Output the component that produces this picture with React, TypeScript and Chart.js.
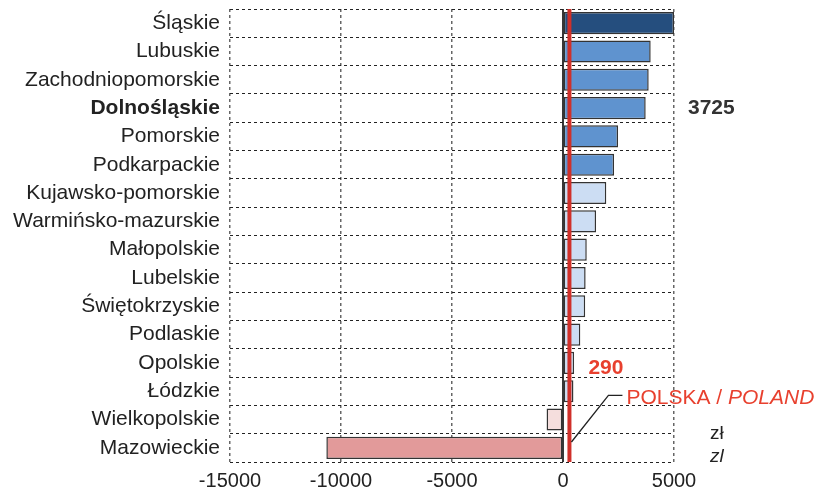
import React, { useEffect, useRef } from "react";
import { Chart, registerables } from "chart.js";

Chart.register(...registerables);

const categories = [
  "Śląskie",
  "Lubuskie",
  "Zachodniopomorskie",
  "Dolnośląskie",
  "Pomorskie",
  "Podkarpackie",
  "Kujawsko-pomorskie",
  "Warmińsko-mazurskie",
  "Małopolskie",
  "Lubelskie",
  "Świętokrzyskie",
  "Podlaskie",
  "Opolskie",
  "Łódzkie",
  "Wielkopolskie",
  "Mazowieckie",
];

const values = [5000, 3950, 3860, 3725, 2480, 2300, 1950, 1490, 1070, 1020, 1000, 780, 500, 470, -740, -10660];

const barColors = [
  "#254E7E",
  "#5F93CF",
  "#5F93CF",
  "#5F93CF",
  "#5F93CF",
  "#5F93CF",
  "#CCDDF3",
  "#CCDDF3",
  "#CCDDF3",
  "#CCDDF3",
  "#CCDDF3",
  "#CCDDF3",
  "#CCDDF3",
  "#CCDDF3",
  "#F5DEDD",
  "#E29A9A",
];

const polandValue = 290;
const highlightIndex = 3;
const highlightLabel = "3725";
const polandLabel = "290";
const xTicks = [-15000, -10000, -5000, 0, 5000];

const FONT = "'Liberation Sans', Arial, Helvetica, sans-serif";

const overlayPlugin = {
  id: "overlay",
  afterDatasetsDraw(chart: any) {
    const ctx = chart.ctx;
    const xs = chart.scales.x;
    const ys = chart.scales.y;
    const area = chart.chartArea;
    const rowH = (area.bottom - area.top) / categories.length;
    ctx.save();
    // zero line
    const x0 = xs.getPixelForValue(0);
    ctx.strokeStyle = "#222";
    ctx.lineWidth = 1.8;
    ctx.setLineDash([]);
    ctx.beginPath();
    ctx.moveTo(x0, area.top);
    ctx.lineTo(x0, area.bottom);
    ctx.stroke();
    // Poland line
    const xp = xs.getPixelForValue(polandValue);
    ctx.strokeStyle = "#D0302A";
    ctx.lineWidth = 4;
    ctx.beginPath();
    ctx.moveTo(xp, area.top);
    ctx.lineTo(xp, area.bottom);
    ctx.stroke();
    // leader line
    const yElbow = ys.getPixelForValue(13) + rowH * 0.15;
    ctx.strokeStyle = "#222";
    ctx.lineWidth = 1.3;
    ctx.beginPath();
    ctx.moveTo(xp + 2, area.bottom - 20);
    ctx.lineTo(xp + 39, yElbow);
    ctx.lineTo(xp + 53, yElbow);
    ctx.stroke();
    // texts
    ctx.textBaseline = "middle";
    ctx.textAlign = "left";
    ctx.fillStyle = "#333";
    ctx.font = `bold 21px ${FONT}`;
    ctx.fillText(highlightLabel, area.right + 14, ys.getPixelForValue(highlightIndex));
    ctx.fillStyle = "#E8402E";
    ctx.fillText(polandLabel, xp + 19, ys.getPixelForValue(12) + 5);
    ctx.font = `21px ${FONT}`;
    const px = xp + 57;
    const part1 = "POLSKA / ";
    ctx.fillText(part1, px, yElbow + 3);
    const w1 = ctx.measureText(part1).width;
    ctx.font = `italic 21px ${FONT}`;
    ctx.fillText("POLAND", px + w1, yElbow + 3);
    ctx.fillStyle = "#222";
    ctx.font = `19px ${FONT}`;
    ctx.fillText("zł", area.right + 36, ys.getPixelForValue(15) - 14);
    ctx.font = `italic 19px ${FONT}`;
    ctx.fillText("zl", area.right + 36, ys.getPixelForValue(15) + 9);
    ctx.restore();
  },
};

export default function App() {
  const ref = useRef<HTMLCanvasElement | null>(null);
  useEffect(() => {
    if (!ref.current) return;
    const chart = new Chart(ref.current, {
      type: "bar",
      data: {
        labels: categories,
        datasets: [
          {
            data: values,
            backgroundColor: barColors,
            borderColor: "#333",
            borderWidth: 1.5,
            borderSkipped: false,
            barPercentage: 0.78,
            categoryPercentage: 1,
          },
        ],
      },
      plugins: [overlayPlugin],
      options: {
        indexAxis: "y",
        animation: false,
        responsive: true,
        maintainAspectRatio: false,
        layout: { padding: { top: 9, right: 142, left: 0, bottom: 0 } },
        plugins: { legend: { display: false }, tooltip: { enabled: false } },
        scales: {
          x: {
            min: -15000,
            max: 5000,
            afterBuildTicks: (scale: any) => {
              scale.ticks = xTicks.map((v) => ({ value: v }));
            },
            afterFit: (scale: any) => {
              scale.height = 32;
              scale.paddingLeft = 0;
              scale.paddingRight = 0;
            },
            grid: {
              color: (c: any) => (c.tick && c.tick.value === 0 ? "rgba(0,0,0,0)" : "#666"),
              lineWidth: 1.5,
              drawTicks: false,
            },
            border: { display: false, dash: [3, 3] },
            ticks: {
              color: "#222",
              font: { size: 20, family: FONT },
              padding: 7,
              maxRotation: 0,
              callback: (v: any) => String(v),
            },
          },
          y: {
            afterFit: (scale: any) => {
              scale.width = 230;
              scale.paddingTop = 0;
              scale.paddingBottom = 0;
            },
            grid: {
              color: "#222",
              lineWidth: 1,
              drawTicks: false,
              offset: true,
            },
            border: { display: false, dash: [3, 3] },
            ticks: {
              color: "#222",
              padding: 10,
              autoSkip: false,
              font: (c: any) => ({
                size: 21,
                family: FONT,
                weight: c.index === highlightIndex ? "bold" : "normal",
              }),
            },
          },
        },
      },
    });
    return () => chart.destroy();
  }, []);
  return (
    <div style={{ position: "absolute", left: 0, top: 0, width: 816, height: 494 }}>
      <canvas ref={ref} />
    </div>
  );
}
